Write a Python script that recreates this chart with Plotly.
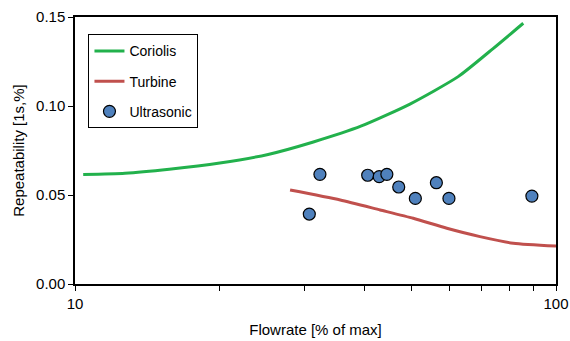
import plotly.graph_objects as go

coriolis_x = [10.4, 12.7, 15.7, 20.0, 25.2, 31.3, 39.4, 49.7, 62.6, 74.1, 85.5]
coriolis_y = [0.0615, 0.0622, 0.0645, 0.0680, 0.0728, 0.0798, 0.0888, 0.1011, 0.1165, 0.1324, 0.1465]

turbine_x = [28.0, 35.6, 43.1, 50.5, 59.3, 69.5, 81.5, 100.0]
turbine_y = [0.0528, 0.0472, 0.0416, 0.0369, 0.0313, 0.0266, 0.0229, 0.0213]

ultra_x = [30.7, 32.3, 40.6, 42.9, 44.5, 47.1, 51.0, 56.4, 59.9, 89.1]
ultra_y = [0.0393, 0.0616, 0.0611, 0.0603, 0.0616, 0.0545, 0.0481, 0.0569, 0.0481, 0.0494]

x_tickvals = [10, 20, 30, 40, 50, 60, 70, 80, 90, 100]
x_ticktext = ["10", "", "", "", "", "", "", "", "", "100"]
y_tickvals = [0.0, 0.05, 0.10, 0.15]

FONT = "Liberation Sans"

fig = go.Figure()
fig.add_trace(go.Scatter(x=coriolis_x, y=coriolis_y, mode="lines", name="Coriolis",
                         line=dict(color="#22B14C", width=3, shape="spline", smoothing=0.6),
                         legendgroup="a"))
fig.add_trace(go.Scatter(x=turbine_x, y=turbine_y, mode="lines", name="Turbine",
                         line=dict(color="#C0504D", width=3, shape="spline", smoothing=0.6),
                         legendgroup="b"))
fig.add_trace(go.Scatter(x=ultra_x, y=ultra_y, mode="markers", name="Ultrasonic",
                         marker=dict(size=12, color="#4F81BD", line=dict(color="black", width=1.2)),
                         legendgroup="c"))

fig.update_layout(
    width=570, height=341,
    margin=dict(l=75, r=14, t=17, b=57),
    paper_bgcolor="white", plot_bgcolor="white",
    font=dict(family=FONT, size=14, color="black"),
    showlegend=True,
    legend=dict(x=0.028, y=0.935, xanchor="left", yanchor="top",
                bordercolor="black", borderwidth=1, bgcolor="white",
                font=dict(size=14), tracegroupgap=9, traceorder="grouped",
                itemwidth=30),
)
fig.update_xaxes(type="log", range=[1, 2], tickvals=x_tickvals, ticktext=x_ticktext,
                 ticks="outside", ticklen=5, tickcolor="black", showgrid=False,
                 showline=True, linecolor="black", linewidth=1.5, mirror=True,
                 title=dict(text="Flowrate [% of max]", font=dict(size=15), standoff=14),
                 tickfont=dict(size=15), zeroline=False, automargin=False)
fig.update_yaxes(range=[0, 0.15], tickvals=y_tickvals, tickformat=".2f",
                 ticks="outside", ticklen=5, tickcolor="black", showgrid=False,
                 showline=True, linecolor="black", linewidth=1.5, mirror=True,
                 title=dict(text="Repeatability [1s,%]", font=dict(size=15), standoff=8),
                 tickfont=dict(size=15), zeroline=False, automargin=False)

fig.write_html("out.html")
